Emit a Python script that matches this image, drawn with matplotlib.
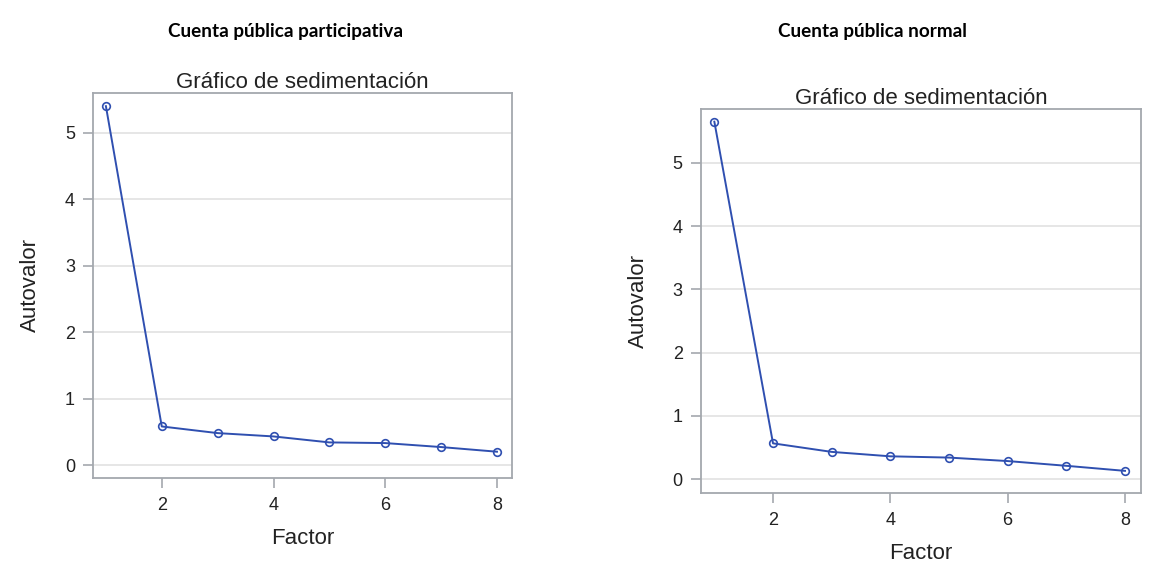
import matplotlib.pyplot as plt
import numpy as np

factores = [1, 2, 3, 4, 5, 6, 7, 8]
autovalores_participativa = [5.40, 0.58, 0.48, 0.43, 0.34, 0.33, 0.27, 0.20]
autovalores_normal = [5.65, 0.565, 0.43, 0.36, 0.34, 0.285, 0.21, 0.13]

titulo_izq = 'Cuenta pública participativa'
titulo_der = 'Cuenta pública normal'
titulo_graf = 'Gráfico de sedimentación'

azul = '#2f4fb0'
gris_marco = '#a4a8ae'
gris_grid = '#e4e4e4'
texto = '#222222'

plt.rcParams['font.family'] = 'Liberation Sans'


def panel(ax, y, ylim):
    ax.plot(factores, y, color=azul, lw=1.4, marker='o', ms=5.5,
            mfc='none', mec=azul, mew=1.2)
    ax.set_xlim(0.77, 8.27)
    ax.set_ylim(*ylim)
    ax.set_xticks([2, 4, 6, 8])
    ax.set_yticks([0, 1, 2, 3, 4, 5])
    ax.grid(axis='y', color=gris_grid, lw=1.3)
    ax.set_axisbelow(True)
    for s in ax.spines.values():
        s.set_color(gris_marco)
        s.set_linewidth(1.3)
    ax.tick_params(colors=gris_marco, labelcolor=texto, labelsize=13,
                   length=7, width=1.2)
    ax.tick_params(axis='x', pad=7)
    ax.tick_params(axis='y', pad=6)
    ax.set_title(titulo_graf, fontsize=16, color=texto, pad=1)
    ax.set_xlabel('Factor', fontsize=16, color=texto, labelpad=10)
    ax.set_ylabel('Autovalor', fontsize=16, color=texto, labelpad=17)


fig = plt.figure(figsize=(11.72, 5.74), dpi=100)
ax1 = fig.add_axes([0.0794, 0.1672, 0.3575, 0.671])
ax2 = fig.add_axes([0.598, 0.1411, 0.3754, 0.669])

panel(ax1, autovalores_participativa, (-0.196, 5.60))
panel(ax2, autovalores_normal, (-0.22, 5.85))

fig.text(285 / 1172, 1 - 32 / 574, titulo_izq, ha='center', va='center',
         fontsize=13.6, fontweight='bold', family='Lato')
fig.text(872 / 1172, 1 - 32 / 574, titulo_der, ha='center', va='center',
         fontsize=13.6, fontweight='bold', family='Lato')

fig.savefig('out.png', dpi=100)
